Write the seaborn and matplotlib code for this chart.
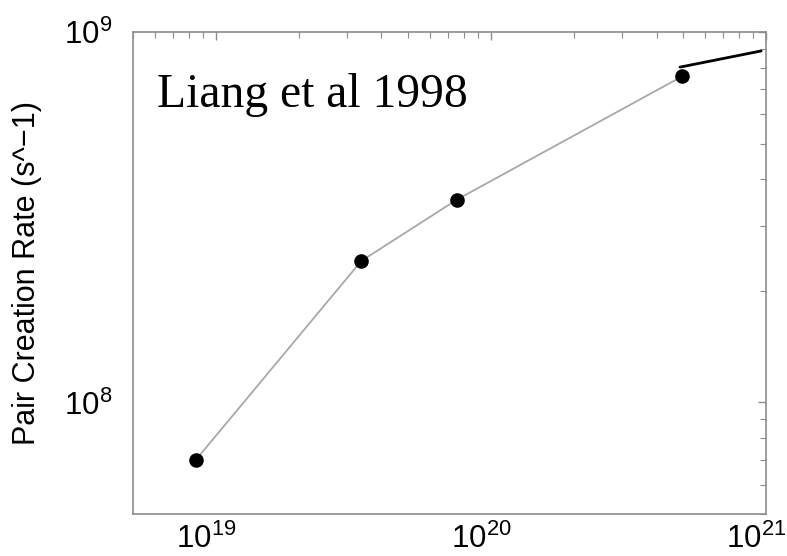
import matplotlib
matplotlib.use("Agg")
import matplotlib.pyplot as plt
import matplotlib.transforms as mtransforms
import seaborn as sns
import pandas as pd

# Pair creation rate vs. density (log-log)
density = [8.46e18, 3.38e19, 7.53e19, 4.97e20]
rate = [7.0e7, 2.41e8, 3.53e8, 7.6e8]

# Reference model segment
model_density = [4.87e20, 9.6e20]
model_rate = [8.04e8, 8.89e8]

sns.set_style("white")
plt.rcParams["font.family"] = ["Liberation Sans", "DejaVu Sans"]
plt.rcParams["mathtext.fontset"] = "custom"
plt.rcParams["mathtext.rm"] = "Liberation Sans"
plt.rcParams["mathtext.it"] = "Liberation Sans"
plt.rcParams["mathtext.default"] = "regular"

df = pd.DataFrame({"density": density, "rate": rate})
model = pd.DataFrame({"density": model_density, "rate": model_rate})

fig = plt.figure(figsize=(7.87, 5.56), dpi=100)
ax = fig.add_axes([0.169, 0.0755, 0.8043, 0.8669])

sns.lineplot(data=df, x="density", y="rate", ax=ax, color="#a8a8a8",
             linewidth=1.3, sort=False)
sns.scatterplot(data=df, x="density", y="rate", ax=ax, color="black",
                s=110, edgecolor="black", linewidth=0, zorder=3)
sns.lineplot(data=model, x="density", y="rate", ax=ax, color="black",
             linewidth=2.0, sort=False)

ax.set_xscale("log")
ax.set_yscale("log")
ax.set_xlim(5e18, 1e21)
ax.set_ylim(5e7, 1e9)

ax.set_xlabel("")
ax.set_ylabel("Pair Creation Rate (s^\u22121)", fontsize=22, color="black")
ax.yaxis.set_label_coords(-0.143, 0.5)

for s in ax.spines.values():
    s.set_color("#8c8c8c")
    s.set_linewidth(1.2)

ax.tick_params(which="both", direction="in", top=True, right=True,
               color="#8c8c8c", labelsize=22.5, labelcolor="black")
ax.tick_params(which="major", length=6, width=1.0)
ax.tick_params(which="minor", length=4, width=0.8)
ax.tick_params(axis="x", pad=7)
ax.tick_params(axis="y", pad=15)

# nudge the decade labels slightly left of their ticks
shift = mtransforms.ScaledTranslation(-10 / 100, 0, fig.dpi_scale_trans)
for lbl in ax.get_xticklabels():
    lbl.set_transform(lbl.get_transform() + shift)

ax.text(0.038, 0.844, "Liang et al 1998", transform=ax.transAxes,
        fontsize=34.3, family="Liberation Serif", color="black",
        ha="left", va="baseline")

fig.savefig("out.png", dpi=100)
